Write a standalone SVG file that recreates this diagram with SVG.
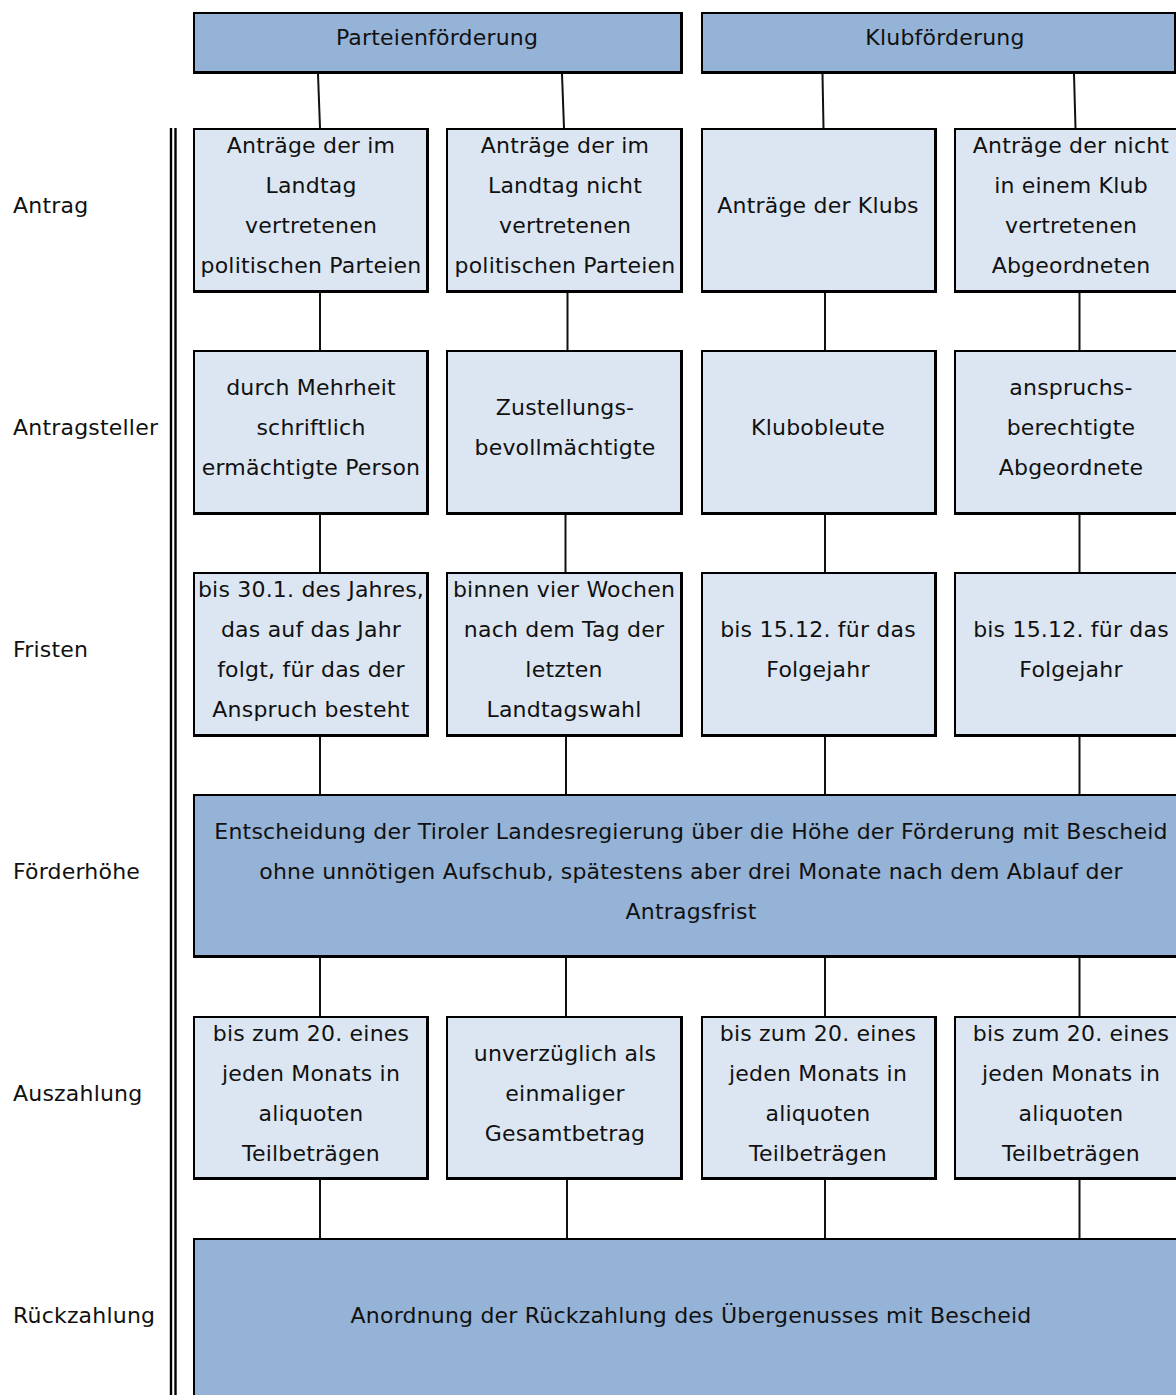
<svg xmlns="http://www.w3.org/2000/svg" width="1176" height="1395" viewBox="0 0 1176 1395">
<style>
text{font-family:"DejaVu Sans","Liberation Sans",sans-serif;font-size:22px;fill:#111;letter-spacing:0.2px;}
.c{text-anchor:middle;}
.b{fill:#000;}
.dk{fill:#95B3D7;}
.lt{fill:#DCE6F2;}
.ln{stroke:#111;stroke-width:2;fill:none;}
.ax{stroke:#000;stroke-width:2.4;fill:none;}
</style>
<rect width="1176" height="1395" fill="#fff"/>
<g id="axis">
<line class="ax" x1="171" y1="128" x2="171" y2="1395"/>
<line class="ax" x1="175.5" y1="128" x2="175.5" y2="1395"/>
</g>
<g id="labels">
<text x="13" y="213">Antrag</text>
<text x="13" y="435">Antragsteller</text>
<text x="13" y="657">Fristen</text>
<text x="13" y="879">Förderhöhe</text>
<text x="13" y="1101">Auszahlung</text>
<text x="13" y="1323">Rückzahlung</text>
</g>
<g id="connectors">
<line class="ln" x1="318" y1="74" x2="320" y2="128"/>
<line class="ln" x1="562" y1="74" x2="564" y2="128"/>
<line class="ln" x1="822.5" y1="74" x2="823.5" y2="128"/>
<line class="ln" x1="1074" y1="74" x2="1075.5" y2="128"/>
<line class="ln" x1="320" y1="293" x2="320" y2="350"/>
<line class="ln" x1="567.5" y1="293" x2="567.5" y2="350"/>
<line class="ln" x1="825" y1="293" x2="825" y2="350"/>
<line class="ln" x1="1079.5" y1="293" x2="1079.5" y2="350"/>
<line class="ln" x1="320" y1="515" x2="320" y2="572"/>
<line class="ln" x1="565.5" y1="515" x2="565.5" y2="572"/>
<line class="ln" x1="825" y1="515" x2="825" y2="572"/>
<line class="ln" x1="1079.5" y1="515" x2="1079.5" y2="572"/>
<line class="ln" x1="320" y1="737" x2="320" y2="794"/>
<line class="ln" x1="566" y1="737" x2="566" y2="794"/>
<line class="ln" x1="825" y1="737" x2="825" y2="794"/>
<line class="ln" x1="1079.5" y1="737" x2="1079.5" y2="794"/>
<line class="ln" x1="320" y1="958" x2="320" y2="1016"/>
<line class="ln" x1="566" y1="958" x2="566" y2="1016"/>
<line class="ln" x1="825" y1="958" x2="825" y2="1016"/>
<line class="ln" x1="1079.5" y1="958" x2="1079.5" y2="1016"/>
<line class="ln" x1="320" y1="1180" x2="320" y2="1238"/>
<line class="ln" x1="567" y1="1180" x2="567" y2="1238"/>
<line class="ln" x1="825" y1="1180" x2="825" y2="1238"/>
<line class="ln" x1="1079.5" y1="1180" x2="1079.5" y2="1238"/>
</g>
<g id="h1"><rect class="b" x="193" y="12" width="490" height="62"/><rect class="dk" x="195" y="14" width="485" height="57"/><text class="c" x="437" y="45">Parteienförderung</text></g>
<g id="h2"><rect class="b" x="701" y="12" width="476" height="62"/><rect class="dk" x="703" y="14" width="471" height="57"/><text class="c" x="945" y="45">Klubförderung</text></g>

<g id="r1c1"><rect class="b" x="193" y="128" width="236" height="165"/><rect class="lt" x="195" y="130" width="231" height="160"/>
<text class="c" x="311" y="153">Anträge der im</text><text class="c" x="311" y="193">Landtag</text><text class="c" x="311" y="233">vertretenen</text><text class="c" x="311" y="273">politischen Parteien</text></g>
<g id="r1c2"><rect class="b" x="446" y="128" width="237" height="165"/><rect class="lt" x="448" y="130" width="232" height="160"/>
<text class="c" x="565" y="153">Anträge der im</text><text class="c" x="565" y="193">Landtag nicht</text><text class="c" x="565" y="233">vertretenen</text><text class="c" x="565" y="273">politischen Parteien</text></g>
<g id="r1c3"><rect class="b" x="701" y="128" width="236" height="165"/><rect class="lt" x="703" y="130" width="231" height="160"/>
<text class="c" x="818" y="213">Anträge der Klubs</text></g>
<g id="r1c4"><rect class="b" x="954" y="128" width="236" height="165"/><rect class="lt" x="956" y="130" width="231" height="160"/>
<text class="c" x="1071" y="153">Anträge der nicht</text><text class="c" x="1071" y="193">in einem Klub</text><text class="c" x="1071" y="233">vertretenen</text><text class="c" x="1071" y="273">Abgeordneten</text></g>

<g id="r2c1"><rect class="b" x="193" y="350" width="236" height="165"/><rect class="lt" x="195" y="352" width="231" height="160"/>
<text class="c" x="311" y="395">durch Mehrheit</text><text class="c" x="311" y="435">schriftlich</text><text class="c" x="311" y="475">ermächtigte Person</text></g>
<g id="r2c2"><rect class="b" x="446" y="350" width="237" height="165"/><rect class="lt" x="448" y="352" width="232" height="160"/>
<text class="c" x="565" y="415">Zustellungs-</text><text class="c" x="565" y="455">bevollmächtigte</text></g>
<g id="r2c3"><rect class="b" x="701" y="350" width="236" height="165"/><rect class="lt" x="703" y="352" width="231" height="160"/>
<text class="c" x="818" y="435">Klubobleute</text></g>
<g id="r2c4"><rect class="b" x="954" y="350" width="236" height="165"/><rect class="lt" x="956" y="352" width="231" height="160"/>
<text class="c" x="1071" y="395">anspruchs-</text><text class="c" x="1071" y="435">berechtigte</text><text class="c" x="1071" y="475">Abgeordnete</text></g>

<g id="r3c1"><rect class="b" x="193" y="572" width="236" height="165"/><rect class="lt" x="195" y="574" width="231" height="160"/>
<text class="c" x="311" y="597">bis 30.1. des Jahres,</text><text class="c" x="311" y="637">das auf das Jahr</text><text class="c" x="311" y="677">folgt, für das der</text><text class="c" x="311" y="717">Anspruch besteht</text></g>
<g id="r3c2"><rect class="b" x="446" y="572" width="237" height="165"/><rect class="lt" x="448" y="574" width="232" height="160"/>
<text class="c" x="564" y="597">binnen vier Wochen</text><text class="c" x="564" y="637">nach dem Tag der</text><text class="c" x="564" y="677">letzten</text><text class="c" x="564" y="717">Landtagswahl</text></g>
<g id="r3c3"><rect class="b" x="701" y="572" width="236" height="165"/><rect class="lt" x="703" y="574" width="231" height="160"/>
<text class="c" x="818" y="637">bis 15.12. für das</text><text class="c" x="818" y="677">Folgejahr</text></g>
<g id="r3c4"><rect class="b" x="954" y="572" width="236" height="165"/><rect class="lt" x="956" y="574" width="231" height="160"/>
<text class="c" x="1071" y="637">bis 15.12. für das</text><text class="c" x="1071" y="677">Folgejahr</text></g>

<g id="r4"><rect class="b" x="193" y="794" width="997" height="164"/><rect class="dk" x="195" y="796" width="992" height="159"/>
<text class="c" x="691" y="839">Entscheidung der Tiroler Landesregierung über die Höhe der Förderung mit Bescheid</text>
<text class="c" x="691" y="879">ohne unnötigen Aufschub, spätestens aber drei Monate nach dem Ablauf der</text>
<text class="c" x="691" y="919">Antragsfrist</text></g>

<g id="r5c1"><rect class="b" x="193" y="1016" width="236" height="164"/><rect class="lt" x="195" y="1018" width="231" height="159"/>
<text class="c" x="311" y="1041">bis zum 20. eines</text><text class="c" x="311" y="1081">jeden Monats in</text><text class="c" x="311" y="1121">aliquoten</text><text class="c" x="311" y="1161">Teilbeträgen</text></g>
<g id="r5c2"><rect class="b" x="446" y="1016" width="237" height="164"/><rect class="lt" x="448" y="1018" width="232" height="159"/>
<text class="c" x="565" y="1061">unverzüglich als</text><text class="c" x="565" y="1101">einmaliger</text><text class="c" x="565" y="1141">Gesamtbetrag</text></g>
<g id="r5c3"><rect class="b" x="701" y="1016" width="236" height="164"/><rect class="lt" x="703" y="1018" width="231" height="159"/>
<text class="c" x="818" y="1041">bis zum 20. eines</text><text class="c" x="818" y="1081">jeden Monats in</text><text class="c" x="818" y="1121">aliquoten</text><text class="c" x="818" y="1161">Teilbeträgen</text></g>
<g id="r5c4"><rect class="b" x="954" y="1016" width="236" height="164"/><rect class="lt" x="956" y="1018" width="231" height="159"/>
<text class="c" x="1071" y="1041">bis zum 20. eines</text><text class="c" x="1071" y="1081">jeden Monats in</text><text class="c" x="1071" y="1121">aliquoten</text><text class="c" x="1071" y="1161">Teilbeträgen</text></g>

<g id="r6"><rect class="b" x="193" y="1238" width="997" height="170"/><rect class="dk" x="195" y="1240" width="992" height="165"/>
<text class="c" x="691" y="1323">Anordnung der Rückzahlung des Übergenusses mit Bescheid</text></g>
</svg>
